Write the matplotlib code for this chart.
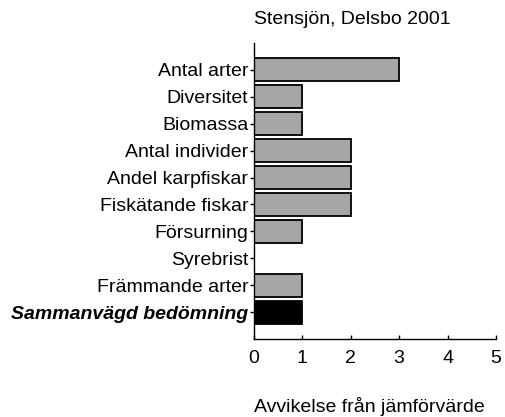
import matplotlib.pyplot as plt
import numpy as np

plt.rcParams['font.family'] = ['Liberation Sans', 'DejaVu Sans']

# Fish index deviation classes
categories = ['Antal arter', 'Diversitet', 'Biomassa', 'Antal individer',
              'Andel karpfiskar', 'Fiskätande fiskar', 'Försurning',
              'Syrebrist', 'Främmande arter', 'Sammanvägd bedömning']
values = [3, 1, 1, 2, 2, 2, 1, 0, 1, 1]
colors = ['#a6a6a6'] * 9 + ['black']
xticks = [0, 1, 2, 3, 4, 5]

fig = plt.figure(figsize=(5.05, 4.17), dpi=100)
ax = fig.add_axes([0.503, 0.187, 0.479, 0.710])

y = np.arange(len(categories))
ax.barh(y, values, height=0.86, color=colors, edgecolor='black', linewidth=1.3)

ax.set_ylim(len(categories), -1)
ax.set_xlim(0, 5)
ax.set_yticks(y)
ax.set_yticklabels(categories, fontsize=14)
ax.get_yticklabels()[-1].set_fontweight('bold')
ax.get_yticklabels()[-1].set_fontstyle('italic')
ax.set_xticks(xticks)
ax.set_xticklabels([str(t) for t in xticks], fontsize=14)

ax.tick_params(axis='y', direction='out', length=3, width=1, pad=1)
ax.tick_params(axis='x', direction='in', length=3, width=1, pad=8)

for s in ['top', 'right']:
    ax.spines[s].set_visible(False)
ax.spines['left'].set_linewidth(1)
ax.spines['bottom'].set_linewidth(1)

ax.set_title('Stensjön, Delsbo 2001', loc='left', fontsize=14, pad=14)
ax.set_xlabel('Avvikelse från jämförvärde', fontsize=14, loc='left')
ax.xaxis.set_label_coords(0, -0.195)

plt.savefig('out.png', dpi=100)
